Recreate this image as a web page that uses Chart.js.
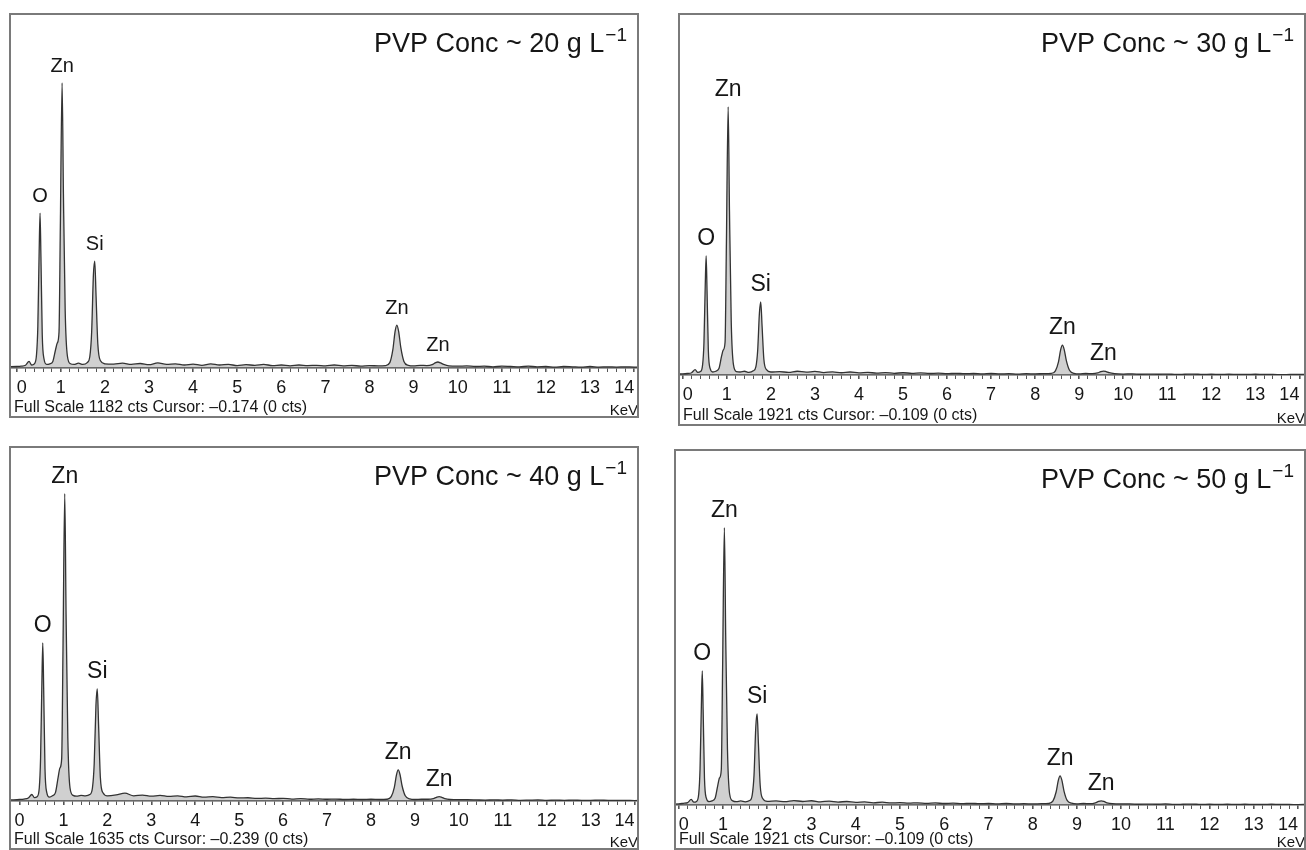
<!DOCTYPE html>
<html>
<head>
<meta charset="utf-8">
<script src="https://cdn.jsdelivr.net/npm/chart.js@4.4.1/dist/chart.umd.min.js"></script>
<style>
    html, body { margin: 0; padding: 0; background: #fff; }
    body { width: 1306px; height: 850px; position: relative; overflow: hidden; }
    .panel { position: absolute; }
    .panel canvas { display: block; }
</style>
</head>
<body>
<div class="panel" style="left:9px;top:13px;width:630px;height:405px"><canvas id="c20"></canvas></div>
<div class="panel" style="left:678px;top:13px;width:628px;height:413px"><canvas id="c30"></canvas></div>
<div class="panel" style="left:9px;top:446px;width:630px;height:404px"><canvas id="c40"></canvas></div>
<div class="panel" style="left:674px;top:449px;width:632px;height:401px"><canvas id="c50"></canvas></div>
<script>
// energy channels (keV), shared by all four spectra
const energyKeV = [
    -0.2, 0.00, 0.10, 0.20, 0.28, 0.34, 0.40, 0.45, 0.48, 0.51, 0.53, 0.55, 0.58, 0.62, 0.68,
    0.75, 0.82, 0.88, 0.92, 0.96, 0.99, 1.03, 1.06, 1.10, 1.15, 1.22,
    1.30, 1.40, 1.50, 1.60, 1.66, 1.70, 1.74, 1.77, 1.80, 1.84, 1.90, 2.00,
    2.2, 2.4, 2.6, 2.8, 3.0, 3.2, 3.4, 3.6, 3.8, 4.0, 4.2, 4.4, 4.6, 4.8, 5.0, 5.2, 5.4, 5.6,
    5.8, 6.0, 6.2, 6.4, 6.6, 6.8, 7.0, 7.2, 7.4, 7.6, 7.8, 8.0, 8.2,
    8.36, 8.46, 8.53, 8.58, 8.62, 8.66, 8.71, 8.78, 8.88, 9.0, 9.15, 9.3, 9.42, 9.49, 9.55, 9.61, 9.68, 9.8, 10.0,
    10.2, 10.4, 10.6, 10.8, 11.0, 11.2, 11.4, 11.6, 11.8, 12.0, 12.2, 12.4, 12.6, 12.8, 13.0, 13.2, 13.4, 13.6, 13.8, 14.0, 14.2
];

// counts per channel for each PVP concentration
const counts20 = [
    4, 5, 6, 9, 22, 10, 14, 45, 140, 390, 516, 370, 110, 30, 12,
    14, 22, 60, 83, 120, 470, 949, 580, 190, 40, 14,
    12, 16, 12, 18, 40, 120, 310, 356, 240, 80, 24, 14,
    13, 16, 12, 15, 11, 17, 12, 14, 10, 13, 9, 14, 10, 12, 8, 11, 9, 12,
    8, 10, 7, 10, 8, 9, 7, 10, 7, 9, 6, 8, 7,
    8, 18, 62, 122, 143, 122, 68, 22, 9, 7, 9, 8, 11, 17, 20, 17, 12, 7, 6,
    7, 5, 6, 4, 6, 5, 4, 6, 4, 5, 3, 5, 4, 3, 5, 3, 4, 3, 4, 3, 3
];
const counts30 = [
    5, 6, 8, 12, 28, 14, 18, 55, 170, 480, 632, 450, 130, 35, 16,
    20, 34, 100, 133, 175, 700, 1423, 870, 280, 55, 18,
    16, 20, 14, 22, 45, 130, 330, 388, 260, 85, 28, 16,
    18, 14, 20, 15, 19, 13, 17, 12, 16, 11, 14, 10, 13, 9, 12, 9, 11, 8,
    10, 7, 9, 7, 8, 6, 8, 6, 7, 5, 7, 6, 7,
    8, 22, 70, 135, 159, 135, 75, 25, 9, 6, 8, 7, 11, 18, 21, 18, 12, 7, 5,
    6, 4, 5, 4, 5, 3, 4, 5, 3, 4, 3, 4, 3, 3, 4, 3, 3, 2, 3, 3, 3
];
const counts40 = [
    5, 7, 9, 14, 30, 16, 20, 60, 200, 550, 728, 520, 150, 40, 18,
    24, 40, 110, 152, 195, 700, 1415, 860, 290, 60, 26,
    22, 26, 24, 30, 60, 170, 440, 516, 350, 110, 38, 24,
    28, 36, 24, 27, 22, 26, 21, 24, 19, 23, 18, 20, 16, 18, 14, 15, 12, 13,
    11, 12, 9, 11, 8, 10, 8, 9, 7, 8, 7, 8, 7,
    8, 20, 62, 120, 143, 122, 68, 24, 10, 7, 8, 8, 11, 17, 20, 17, 11, 7, 6,
    6, 5, 4, 5, 4, 5, 3, 4, 5, 3, 4, 3, 4, 3, 3, 4, 3, 3, 3, 2, 3
];
const counts50 = [
    5, 6, 9, 13, 30, 15, 19, 60, 195, 540, 723, 510, 145, 38, 18,
    22, 36, 105, 146, 190, 740, 1496, 910, 300, 58, 22,
    18, 22, 17, 24, 55, 160, 420, 491, 330, 105, 34, 20,
    22, 18, 24, 19, 23, 17, 21, 16, 19, 14, 17, 12, 15, 11, 13, 10, 12, 9,
    11, 8, 10, 7, 9, 7, 8, 6, 8, 6, 7, 6, 7,
    8, 22, 70, 133, 157, 134, 74, 25, 10, 6, 8, 7, 12, 19, 22, 19, 12, 7, 6,
    6, 4, 5, 4, 6, 3, 4, 5, 3, 4, 3, 4, 3, 4, 3, 3, 4, 3, 3, 2, 3
];

const peakNames = ['O', 'Zn', 'Si', 'Zn', 'Zn'];
const peakEnergy = [0.53, 1.03, 1.77, 8.62, 9.55];

const concentrations = [20, 30, 40, 50];
const fullScaleCts = [1182, 1921, 1635, 1921];
const cursorKeV = [-0.174, -0.109, -0.239, -0.109];
const xMaxKeV = [14.11, 14.15, 14.10, 14.18];

const FONT = '"Liberation Sans", Arial, Helvetica, sans-serif';

const panels = [
    { canvas: 'c20', counts: counts20, axisHeight: 50, labelSize: 20 },
    { canvas: 'c30', counts: counts30, axisHeight: 51, labelSize: 23 },
    { canvas: 'c40', counts: counts40, axisHeight: 49, labelSize: 23 },
    { canvas: 'c50', counts: counts50, axisHeight: 45, labelSize: 23 }
];

const isWhole = v => Math.abs(v - Math.round(v)) < 1e-6;
const fmtCursor = v => '\u2013' + Math.abs(v).toFixed(3);

const spectrumDecor = {
    id: 'spectrumDecor',
    afterDraw(chart, args, opts) {
        const ctx = chart.ctx;
        const xs = chart.scales.x;
        const ys = chart.scales.y;
        const w = chart.width;
        const h = chart.height;
        ctx.save();
        ctx.fillStyle = '#161616';
        ctx.textBaseline = 'alphabetic';

        // element labels over the peaks
        ctx.textAlign = 'center';
        ctx.font = `${opts.labelSize}px ${FONT}`;
        peakNames.forEach((name, i) => {
            const k = energyKeV.indexOf(peakEnergy[i]);
            const px = xs.getPixelForValue(peakEnergy[i]);
            const py = ys.getPixelForValue(opts.counts[k]);
            ctx.fillText(name, px, py - 11);
        });

        // title with superscript
        ctx.textAlign = 'right';
        ctx.font = `19px ${FONT}`;
        const sup = '\u22121';
        const supW = ctx.measureText(sup).width;
        const right = w - 12;
        ctx.fillText(sup, right, 28);
        ctx.font = `27px ${FONT}`;
        ctx.fillText(`PVP Conc ~ ${opts.conc} g L`, right - supW - 1, 39);

        // footer
        ctx.textAlign = 'left';
        ctx.font = `16px ${FONT}`;
        ctx.fillText(`Full Scale ${opts.fullScale} cts Cursor: ${fmtCursor(opts.cursor)} (0 cts)`, 5, h - 6);
        ctx.textAlign = 'right';
        ctx.font = `15px ${FONT}`;
        ctx.fillText('KeV', w - 1, h - 3);

        // frame
        ctx.strokeStyle = '#7a7a7a';
        ctx.lineWidth = 2;
        ctx.strokeRect(1, 1, w - 2, h - 2);
        ctx.restore();
    }
};

panels.forEach((p, i) => {
    const ctx = document.getElementById(p.canvas).getContext('2d');
    new Chart(ctx, {
        type: 'line',
        data: {
            datasets: [{
                data: energyKeV.map((e, k) => ({ x: e, y: p.counts[k] })),
                borderColor: '#333',
                borderWidth: 1.3,
                backgroundColor: 'rgba(150,150,150,0.45)',
                fill: 'origin',
                pointRadius: 0,
                cubicInterpolationMode: 'monotone'
            }]
        },
        options: {
            responsive: true,
            maintainAspectRatio: false,
            animation: false,
            events: [],
            layout: { padding: 0 },
            plugins: {
                legend: { display: false },
                tooltip: { enabled: false },
                spectrumDecor: {
                    counts: p.counts,
                    labelSize: p.labelSize,
                    conc: concentrations[i],
                    fullScale: fullScaleCts[i],
                    cursor: cursorKeV[i]
                }
            },
            scales: {
                x: {
                    type: 'linear',
                    min: cursorKeV[i],
                    max: xMaxKeV[i],
                    border: { display: true, color: '#444', width: 1.5 },
                    grid: {
                        drawOnChartArea: false,
                        drawTicks: true,
                        tickLength: 4,
                        tickColor: '#555',
                        lineWidth: c => (c.tick && isWhole(c.tick.value)) ? 1.6 : 1
                    },
                    ticks: {
                        stepSize: 0.2,
                        autoSkip: false,
                        maxRotation: 0,
                        minRotation: 0,
                        includeBounds: false,
                        align: 'inner',
                        padding: 5,
                        color: '#161616',
                        font: { family: FONT, size: 18 },
                        callback: v => isWhole(v) ? String(Math.round(v)) : ''
                    },
                    afterFit: s => {
                        s.height = p.axisHeight;
                        s.paddingLeft = 0;
                        s.paddingRight = 0;
                    }
                },
                y: {
                    display: false,
                    min: 0,
                    max: fullScaleCts[i]
                }
            }
        },
        plugins: [spectrumDecor]
    });
});
</script>
</body>
</html>
